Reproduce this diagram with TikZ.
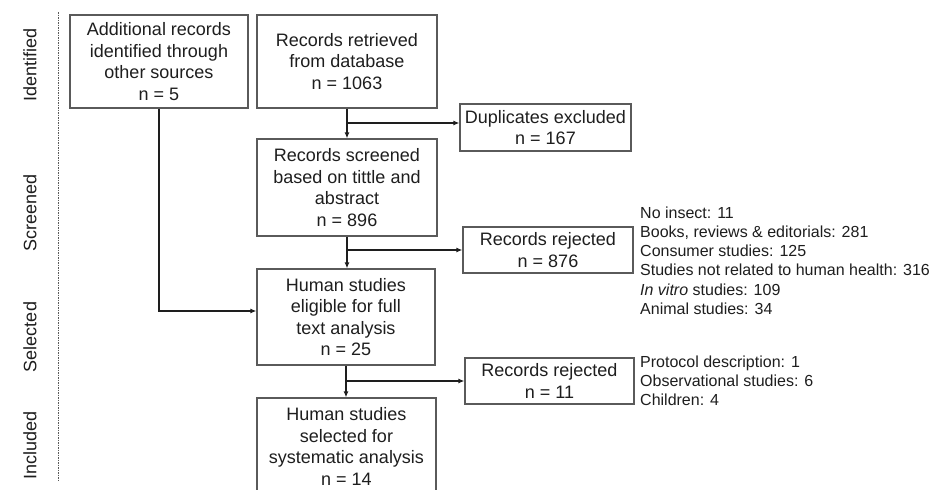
\documentclass[tikz,border=0pt]{standalone}
\usepackage{fontspec}
\setmainfont{Liberation Sans}
\usetikzlibrary{arrows.meta}
\definecolor{ink}{HTML}{1E1E1E}
\definecolor{edge}{HTML}{5A5A5A}
\tikzset{
  box/.style={draw=edge, line width=1.2pt, inner sep=0pt, align=center, text=ink,
    font=\fontsize{18}{21.6}\selectfont},
  phase/.style={rotate=90, text=ink, font=\fontsize{18}{21.6}\selectfont},
  listtext/.style={anchor=west, align=left, inner sep=0pt, text=ink,
    font=\fontsize{16}{19.2}\selectfont},
  arr/.style={draw=ink, line width=1.4pt, -{Latex[length=6pt,width=5pt]}},
  conn/.style={draw=ink, line width=1.4pt}
}
\begin{document}
\begin{tikzpicture}[x=1pt,y=-1pt]
\useasboundingbox (0,0) rectangle (935,490);
\fill[white] (0,0) rectangle (935,490);
% phase labels
\node[phase] (pI) at (30,65) {Identified};
\node[phase] (pS) at (30,213) {Screened};
\node[phase] (pSe) at (30,337) {Selected};
\node[phase] (pIn) at (30,445) {Included};
\coordinate (dtop) at (58,12);
\coordinate (dbot) at (58,482);
\draw[edge, line width=0.8pt, dash pattern=on 1.5pt off 1pt] (dtop) -- (dbot);
% boxes
\node[box, minimum width=178pt, minimum height=93pt] (A) at (159,61.5)
  {Additional records\\identified through\\other sources\\n = 5};
\node[box, minimum width=180pt, minimum height=93pt] (B) at (347,61.5)
  {Records retrieved\\from database\\n = 1063};
\node[box, minimum width=171pt, minimum height=47pt] (Dup) at (545.5,127.5)
  {Duplicates excluded\\n = 167};
\node[box, minimum width=180pt, minimum height=97pt] (C) at (347,187.5)
  {Records screened\\based on tittle and\\abstract\\n = 896};
\node[box, minimum width=170pt, minimum height=46pt] (R1) at (548,250)
  {Records rejected\\n = 876};
\node[box, minimum width=178pt, minimum height=96pt] (D) at (346,317)
  {Human studies\\eligible for full\\text analysis\\n = 25};
\node[box, minimum width=169pt, minimum height=46pt] (R2) at (549.5,381)
  {Records rejected\\n = 11};
\node[box, minimum width=179pt, minimum height=97pt] (E) at (346.5,446.5)
  {Human studies\\selected for\\systematic analysis\\n = 14};
% lists
\node[listtext] (L1) at (640,260.5)
  {No insect: 11\\Books, reviews \& editorials: 281\\Consumer studies: 125\\Studies not related to human health: 316\\\textit{In vitro} studies: 109\\Animal studies: 34};
\node[listtext] (L2) at (640,381)
  {Protocol description: 1\\Observational studies: 6\\Children: 4};
% connectors
\draw[arr] (B.south) -- (B.south |- C.north);
\coordinate (b1) at (347,123);
\draw[arr] (b1) -- (b1 -| Dup.west);
\draw[arr] (C.south) -- (C.south |- D.north);
\draw[arr] (C.south |- R1.west) -- (R1.west);
\draw[arr] (D.south) -- (D.south |- E.north);
\draw[arr] (D.south |- R2.west) -- (R2.west);
\draw[arr] (A.south) |- ([yshift=6pt]D.west);
\end{tikzpicture}
\end{document}
